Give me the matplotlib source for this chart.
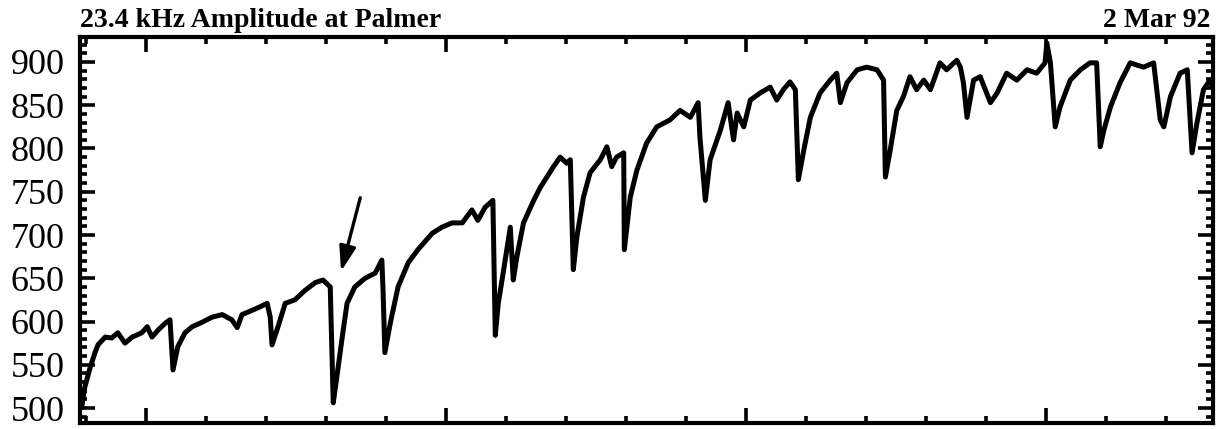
import numpy as np
import matplotlib
matplotlib.use("Agg")
import matplotlib.pyplot as plt
from matplotlib.ticker import MultipleLocator, NullFormatter

# 23.4 kHz signal amplitude recorded at Palmer, time in hours
hours = [
    -1.07, -1.02, -0.93, -0.85, -0.80, -0.68, -0.57, -0.47, -0.35, -0.23,
    -0.07, 0.02, 0.10, 0.20, 0.32, 0.40, 0.45, 0.53, 0.65, 0.77,
    0.93, 1.10, 1.27, 1.43, 1.52, 1.60, 1.77, 1.90, 2.02, 2.07,
    2.10, 2.20, 2.32, 2.48, 2.65, 2.82, 2.95, 3.07, 3.12, 3.18,
    3.27, 3.35, 3.48, 3.65, 3.82, 3.93, 3.95, 3.98, 4.07, 4.20,
    4.37, 4.53, 4.77, 4.93, 5.10, 5.27, 5.43, 5.53, 5.65, 5.78,
    5.82, 5.87, 5.96, 6.07, 6.12, 6.18, 6.29, 6.46, 6.57, 6.68,
    6.79, 6.90, 7.01, 7.07, 7.12, 7.18, 7.29, 7.40, 7.57, 7.68,
    7.76, 7.84, 7.96, 7.97, 8.07, 8.18, 8.34, 8.51, 8.73, 8.90,
    9.07, 9.20, 9.23, 9.32, 9.40, 9.57, 9.70, 9.79, 9.85, 9.96,
    10.07, 10.23, 10.40, 10.51, 10.62, 10.73, 10.82, 10.87, 10.96, 11.07,
    11.23, 11.40, 11.51, 11.57, 11.68, 11.85, 12.01, 12.18, 12.29, 12.32,
    12.40, 12.51, 12.62, 12.73, 12.84, 12.96, 13.07, 13.23, 13.34, 13.51,
    13.57, 13.62, 13.68, 13.79, 13.90, 14.07, 14.18, 14.34, 14.51, 14.68,
    14.84, 14.98, 15.01, 15.07, 15.15, 15.23, 15.40, 15.57, 15.73, 15.84,
    15.90, 15.96, 16.07, 16.23, 16.40, 16.62, 16.79, 16.90, 16.96, 17.07,
    17.23, 17.35, 17.43, 17.51, 17.62, 17.73, 17.78,
]
amplitude = [
    501, 524, 547, 564, 573, 582, 581, 587, 575, 582,
    587, 594, 582, 590, 598, 602, 544, 571, 587, 594,
    599, 605, 608, 602, 593, 608, 613, 617, 621, 605,
    573, 594, 621, 625, 636, 645, 648, 640, 506, 536,
    582, 621, 640, 650, 656, 671, 636, 564, 598, 640,
    668, 683, 702, 709, 714, 714, 729, 717, 732, 740,
    584, 621, 660, 709, 648, 675, 714, 740, 755, 767,
    779, 790, 783, 787, 660, 698, 744, 772, 787, 802,
    779, 790, 795, 683, 744, 775, 806, 825, 833, 844,
    836, 853, 813, 740, 787, 821, 853, 810, 841, 825,
    856, 864, 871, 856, 868, 877, 868, 764, 798, 836,
    864, 879, 887, 853, 876, 891, 894, 891, 879, 767,
    798, 844, 860, 883, 868, 879, 868, 899, 891, 902,
    894, 876, 836, 879, 883, 853, 864, 887, 879, 891,
    887, 899, 922, 899, 825, 848, 879, 891, 899, 899,
    802, 821, 848, 876, 899, 894, 899, 833, 825, 860,
    887, 891, 795, 829, 868, 879, 871,
]

title = "23.4 kHz Amplitude at Palmer"
date_label = "2 Mar 92"
arrow_tail = (3.57, 743)
arrow_tip = (3.25, 658)

plt.rcParams["font.family"] = ["Liberation Serif", "DejaVu Serif"]

fig = plt.figure(figsize=(12.21, 4.29), dpi=100)
ax = fig.add_axes([0.0655, 0.014, 0.928, 0.8998])

ax.plot(hours, amplitude, color="black", lw=3.6, solid_joinstyle="round")

ax.annotate("", xy=arrow_tip, xytext=arrow_tail,
            arrowprops=dict(arrowstyle="-|>,head_length=1.5,head_width=0.5",
                            color="black", lw=2.4, shrinkA=0, shrinkB=0))

ax.set_xlim(-1.1, 17.78)
ax.set_ylim(482.7, 928.9)

ax.xaxis.set_major_locator(MultipleLocator(5))
ax.xaxis.set_minor_locator(MultipleLocator(1))
ax.yaxis.set_major_locator(MultipleLocator(50))
ax.yaxis.set_minor_locator(MultipleLocator(10))
ax.xaxis.set_major_formatter(NullFormatter())

ax.tick_params(which="both", direction="in", top=True, right=True, width=2.6)
ax.tick_params(which="major", length=11)
ax.tick_params(which="minor", length=5)
ax.tick_params(axis="y", which="major", labelsize=26, pad=11)

for spine in ax.spines.values():
    spine.set_linewidth(3)

fig.text(0.0655, 0.922, title, fontsize=20, fontweight="bold", ha="left", va="bottom")
fig.text(0.991, 0.922, date_label, fontsize=20, fontweight="bold", ha="right", va="bottom")

fig.savefig("out.png", dpi=100)
